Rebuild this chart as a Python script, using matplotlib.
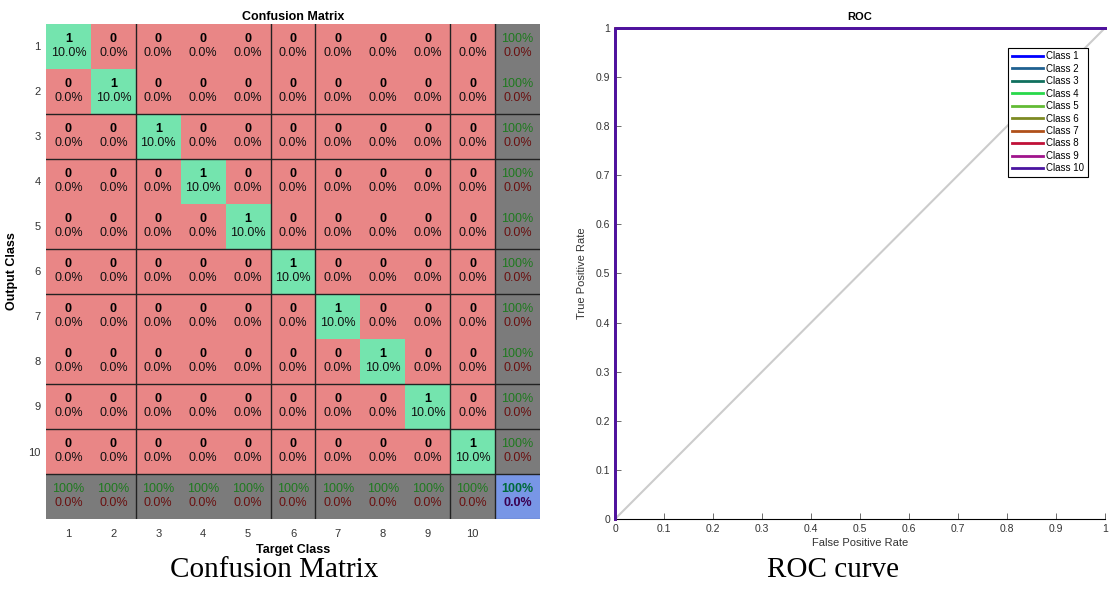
import matplotlib
matplotlib.use("Agg")
import matplotlib.pyplot as plt
import numpy as np

plt.rcParams['font.family'] = ['Liberation Sans', 'DejaVu Sans']

# confusion matrix counts (rows = output class, cols = target class)
counts = [
    [1, 0, 0, 0, 0, 0, 0, 0, 0, 0],
    [0, 1, 0, 0, 0, 0, 0, 0, 0, 0],
    [0, 0, 1, 0, 0, 0, 0, 0, 0, 0],
    [0, 0, 0, 1, 0, 0, 0, 0, 0, 0],
    [0, 0, 0, 0, 1, 0, 0, 0, 0, 0],
    [0, 0, 0, 0, 0, 1, 0, 0, 0, 0],
    [0, 0, 0, 0, 0, 0, 1, 0, 0, 0],
    [0, 0, 0, 0, 0, 0, 0, 1, 0, 0],
    [0, 0, 0, 0, 0, 0, 0, 0, 1, 0],
    [0, 0, 0, 0, 0, 0, 0, 0, 0, 1],
]
class_labels = ['1', '2', '3', '4', '5', '6', '7', '8', '9', '10']

# ROC points per class
roc_fpr = [[0, 0, 1]] * 10
roc_tpr = [[0, 1, 1]] * 10
roc_names = ['Class %d' % (i + 1) for i in range(10)]
roc_colors = ['#0000ff', '#1f6090', '#10705e', '#28d84a', '#62bb34',
              '#7d8a22', '#b0501a', '#c01038', '#a0148c', '#4a14a0']
roc_ticks = [0, 0.1, 0.2, 0.3, 0.4, 0.5, 0.6, 0.7, 0.8, 0.9, 1]
roc_ticklabels = ['0', '0.1', '0.2', '0.3', '0.4', '0.5', '0.6', '0.7', '0.8', '0.9', '1']

GREEN = '#74e4ae'
RED = '#e98686'
GRAY = '#7b7b7b'
BLUE = '#7896e6'

fig = plt.figure(figsize=(11.12, 5.98), dpi=100)

# ---------------- confusion matrix ----------------
ax = fig.add_axes([0.0414, 0.1321, 0.4442, 0.8278])
cm = np.array(counts)
n = cm.shape[0]
total = cm.sum()

for r in range(n + 1):
    for c in range(n + 1):
        if r < n and c < n:
            color = GREEN if r == c else RED
        elif r == n and c == n:
            color = BLUE
        else:
            color = GRAY
        ax.add_patch(plt.Rectangle((c, r), 1, 1, facecolor=color, edgecolor='none'))

        if r < n and c < n:
            v = cm[r, c]
            ax.text(c + 0.5, r + 0.33, '%d' % v, ha='center', va='center',
                    fontsize=9, fontweight='bold', color='black')
            ax.text(c + 0.5, r + 0.65, '%.1f%%' % (100.0 * v / total),
                    ha='center', va='center', fontsize=9, color='#111111')
        else:
            if r == n and c == n:
                acc = np.trace(cm) / total
                fw = 'bold'
                gc, rc = '#006a3a', '#3a0050'
            elif r == n:
                acc = cm[c, c] / cm[:, c].sum()
                fw = 'normal'
                gc, rc = '#1f7a1f', '#6a1010'
            else:
                acc = cm[r, r] / cm[r, :].sum()
                fw = 'normal'
                gc, rc = '#1f7a1f', '#6a1010'
            ax.text(c + 0.5, r + 0.33, '%d%%' % round(100 * acc), ha='center',
                    va='center', fontsize=9, fontweight=fw, color=gc)
            ax.text(c + 0.5, r + 0.65, '%.1f%%' % (100 * (1 - acc)), ha='center',
                    va='center', fontsize=9, fontweight=fw, color=rc)

# grid lines that survive in the reference render
for k in [2, 5, 6, 9, 10]:
    ax.plot([k, k], [0, n + 1], color='#222222', lw=1.0)
for k in [2, 3, 5, 6, 8, 9, 10]:
    ax.plot([0, n + 1], [k, k], color='#222222', lw=1.0)
ax.plot([n, n + 1], [n + 1, n + 1], color='#222222', lw=0.8)

ax.set_xlim(0, n + 1)
ax.set_ylim(n + 1, 0)
ax.set_xticks(np.arange(n) + 0.5)
ax.set_xticklabels(class_labels, fontsize=8, color='#333333')
ax.set_yticks(np.arange(n) + 0.5)
ax.set_yticklabels(class_labels, fontsize=8, color='#333333')
ax.tick_params(axis='x', length=0, pad=7)
ax.tick_params(axis='y', length=0, pad=4)
for s in ax.spines.values():
    s.set_visible(False)
ax.set_title('Confusion Matrix', fontsize=9, fontweight='bold', pad=3)
ax.set_xlabel('Target Class', fontsize=9, fontweight='bold', labelpad=4)
ax.set_ylabel('Output Class', fontsize=9, fontweight='bold', labelpad=7)

# ---------------- ROC ----------------
ax2 = fig.add_axes([0.5531, 0.1321, 0.4406, 0.8211])
ax2.plot([0, 1], [0, 1], color='#cccccc', lw=1.5, zorder=1)
for fpr, tpr, name, col in zip(roc_fpr, roc_tpr, roc_names, roc_colors):
    ax2.plot(fpr, tpr, color=col, lw=2, label=name, clip_on=False, zorder=3)
ax2.set_xlim(0, 1)
ax2.set_ylim(0, 1)
ax2.set_xticks(roc_ticks)
ax2.set_xticklabels(roc_ticklabels)
ax2.set_yticks(roc_ticks)
ax2.set_yticklabels(roc_ticklabels)
ax2.tick_params(direction='in', length=4, labelsize=7.5, labelcolor='#333333',
                color='#555555', width=0.6)
ax2.spines['top'].set_visible(False)
ax2.spines['right'].set_visible(False)
ax2.spines['left'].set_linewidth(0.8)
ax2.spines['bottom'].set_linewidth(0.8)
ax2.set_title('ROC', fontsize=8, fontweight='bold', pad=6)
ax2.set_xlabel('False Positive Rate', fontsize=8, color='#333333', labelpad=3)
ax2.set_ylabel('True Positive Rate', fontsize=8, color='#333333', labelpad=6)
leg = ax2.legend(loc='upper right', fontsize=7, handlelength=3.2, handletextpad=0.3,
                 labelspacing=0.25, borderpad=0.4, fancybox=False, framealpha=1,
                 edgecolor='black', bbox_to_anchor=(0.975, 0.97))
leg.get_frame().set_linewidth(0.8)

# captions
fig.text(0.247, 0.046, 'Confusion Matrix', ha='center', va='center',
         fontsize=21, family='Liberation Serif')
fig.text(0.749, 0.046, 'ROC curve', ha='center', va='center',
         fontsize=21, family='Liberation Serif')

fig.savefig('out.png', dpi=100)
